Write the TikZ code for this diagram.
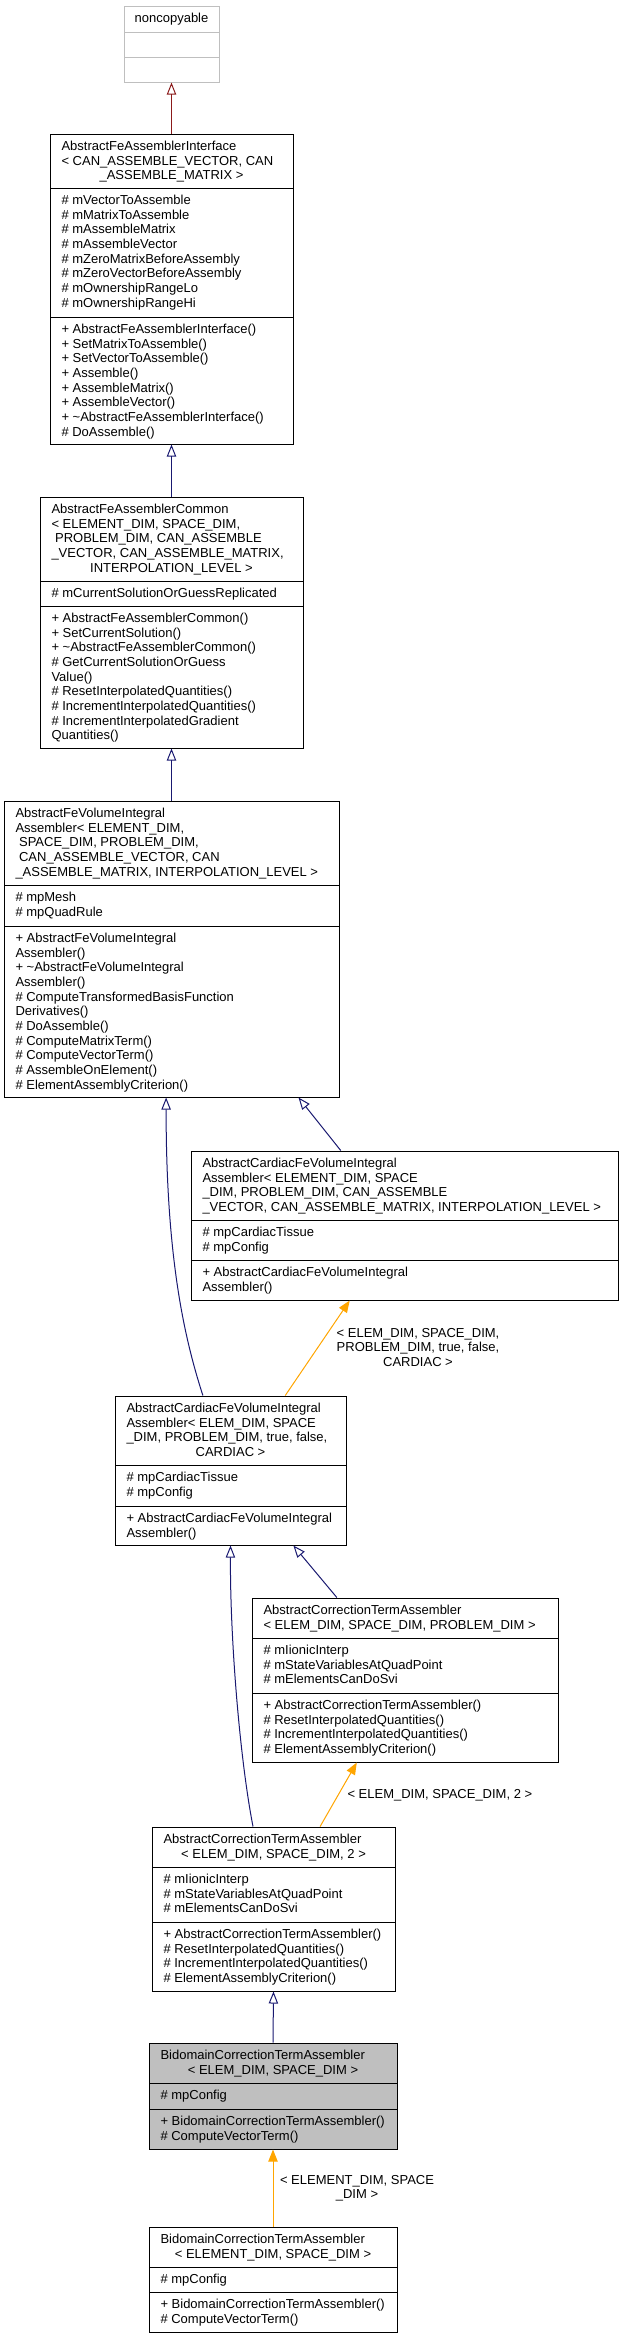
\documentclass[tikz,border=0pt]{standalone}
\usepackage{fontspec}
\setmainfont{Liberation Sans}
\usetikzlibrary{arrows.meta,fit,calc}
\newcommand\umlfont{\fontsize{9.75}{11}\selectfont}
\tikzset{every picture/.style={line width=0.75pt}}

\begin{document}
\begin{tikzpicture}[x=0.75pt,y=0.75pt,yscale=-1,xscale=1,
  cls/.style={draw, fill=white, inner sep=0pt},
  sec/.style={anchor=base west, inner sep=0pt, font=\umlfont},
  mid/.style={anchor=base, inner sep=0pt, font=\umlfont},
  inh/.style={draw={rgb, 255:red, 25; green, 25; blue, 112}, -{Triangle[open,length=9pt,width=7pt]}},
  tpl/.style={draw={rgb, 255:red, 255; green, 165; blue, 0}, -{Triangle[length=9pt,width=7pt]}}]
\useasboundingbox (0,0) rectangle (633,2339);

%Shape: Rectangle [noncopyable]
\node[cls, draw={rgb, 255:red, 191; green, 191; blue, 191}, fit={(124,6) (219,82)}] (noncopy) {};
\draw [color={rgb, 255:red, 191; green, 191; blue, 191}] (124,32) -- (219,32) (124,57) -- (219,57) ;
% Text Node
\node[mid] (noncopy-t) at (171.5,22.5) {noncopyable};

%Shape: Rectangle [AbstractFeAssemblerInterface]
\node[cls, fit={(50,134) (293,444)}] (iface) {};
\draw (50,188) -- (293,188) (50,317) -- (293,317) ;
% Text Node
\node[sec] (iface-t) at (61,150.5) {\begin{tabular}[t]{@{}l@{}}AbstractFeAssemblerInterface\\< CAN\_ASSEMBLE\_VECTOR, CAN\end{tabular}};
\node[mid] (iface-c) at (171.5,179.8) {\_ASSEMBLE\_MATRIX >};
\node[sec] (iface-a) at (61,204.5) {\begin{tabular}[t]{@{}l@{}}\# mVectorToAssemble\\\# mMatrixToAssemble\\\# mAssembleMatrix\\\# mAssembleVector\\\# mZeroMatrixBeforeAssembly\\\# mZeroVectorBeforeAssembly\\\# mOwnershipRangeLo\\\# mOwnershipRangeHi\end{tabular}};
\node[sec] (iface-m) at (61,333.5) {\begin{tabular}[t]{@{}l@{}}+ AbstractFeAssemblerInterface()\\+ SetMatrixToAssemble()\\+ SetVectorToAssemble()\\+ Assemble()\\+ AssembleMatrix()\\+ AssembleVector()\\+ \textasciitilde AbstractFeAssemblerInterface()\\\# DoAssemble()\end{tabular}};

%Shape: Rectangle [AbstractFeAssemblerCommon]
\node[cls, fit={(40,497) (303,748)}] (common) {};
\draw (40,581) -- (303,581) (40,606) -- (303,606) ;
% Text Node
\node[sec] (common-t) at (51,513.5) {\begin{tabular}[t]{@{}l@{}}AbstractFeAssemblerCommon\\< ELEMENT\_DIM, SPACE\_DIM,\\\ PROBLEM\_DIM, CAN\_ASSEMBLE\\\_VECTOR, CAN\_ASSEMBLE\_MATRIX,\end{tabular}};
\node[mid] (common-c) at (171.5,572.2) {INTERPOLATION\_LEVEL >};
\node[sec] (common-a) at (51,597.5) {\# mCurrentSolutionOrGuessReplicated};
\node[sec] (common-m) at (51,622.5) {\begin{tabular}[t]{@{}l@{}}+ AbstractFeAssemblerCommon()\\+ SetCurrentSolution()\\+ \textasciitilde AbstractFeAssemblerCommon()\\\# GetCurrentSolutionOrGuess\\Value()\\\# ResetInterpolatedQuantities()\\\# IncrementInterpolatedQuantities()\\\# IncrementInterpolatedGradient\\Quantities()\end{tabular}};

%Shape: Rectangle [AbstractFeVolumeIntegralAssembler]
\node[cls, fit={(4,801) (339,1097)}] (volint) {};
\draw (4,885) -- (339,885) (4,926) -- (339,926) ;
% Text Node
\node[sec] (volint-t) at (15,817.5) {\begin{tabular}[t]{@{}l@{}}AbstractFeVolumeIntegral\\Assembler< ELEMENT\_DIM,\\\ SPACE\_DIM, PROBLEM\_DIM,\\\ CAN\_ASSEMBLE\_VECTOR, CAN\\\_ASSEMBLE\_MATRIX, INTERPOLATION\_LEVEL >\end{tabular}};
\node[sec] (volint-a) at (15,901.5) {\begin{tabular}[t]{@{}l@{}}\# mpMesh\\\# mpQuadRule\end{tabular}};
\node[sec] (volint-m) at (15,942.5) {\begin{tabular}[t]{@{}l@{}}+ AbstractFeVolumeIntegral\\Assembler()\\+ \textasciitilde AbstractFeVolumeIntegral\\Assembler()\\\# ComputeTransformedBasisFunction\\Derivatives()\\\# DoAssemble()\\\# ComputeMatrixTerm()\\\# ComputeVectorTerm()\\\# AssembleOnElement()\\\# ElementAssemblyCriterion()\end{tabular}};

%Shape: Rectangle [AbstractCardiacFeVolumeIntegralAssembler, full template]
\node[cls, fit={(191,1151) (618,1300)}] (cardfull) {};
\draw (191,1220) -- (618,1220) (191,1260) -- (618,1260) ;
% Text Node
\node[sec] (cardfull-t) at (202,1167.5) {\begin{tabular}[t]{@{}l@{}}AbstractCardiacFeVolumeIntegral\\Assembler< ELEMENT\_DIM, SPACE\\\_DIM, PROBLEM\_DIM, CAN\_ASSEMBLE\\\_VECTOR, CAN\_ASSEMBLE\_MATRIX, INTERPOLATION\_LEVEL >\end{tabular}};
\node[sec] (cardfull-a) at (202,1236.5) {\begin{tabular}[t]{@{}l@{}}\# mpCardiacTissue\\\# mpConfig\end{tabular}};
\node[sec] (cardfull-m) at (202,1276.5) {\begin{tabular}[t]{@{}l@{}}+ AbstractCardiacFeVolumeIntegral\\Assembler()\end{tabular}};

%Shape: Rectangle [AbstractCardiacFeVolumeIntegralAssembler, ELEM_DIM]
\node[cls, fit={(115,1396) (346,1545)}] (cardelem) {};
\draw (115,1465) -- (346,1465) (115,1506) -- (346,1506) ;
% Text Node
\node[sec] (cardelem-t) at (126,1412.5) {\begin{tabular}[t]{@{}l@{}}AbstractCardiacFeVolumeIntegral\\Assembler< ELEM\_DIM, SPACE\\\_DIM, PROBLEM\_DIM, true, false,\end{tabular}};
\node[mid] (cardelem-c) at (230.5,1456.5) {CARDIAC >};
\node[sec] (cardelem-a) at (126,1481.5) {\begin{tabular}[t]{@{}l@{}}\# mpCardiacTissue\\\# mpConfig\end{tabular}};
\node[sec] (cardelem-m) at (126,1522.5) {\begin{tabular}[t]{@{}l@{}}+ AbstractCardiacFeVolumeIntegral\\Assembler()\end{tabular}};

%Shape: Rectangle [AbstractCorrectionTermAssembler, PROBLEM_DIM]
\node[cls, fit={(252,1598) (558,1762)}] (corrprob) {};
\draw (252,1638) -- (558,1638) (252,1693) -- (558,1693) ;
% Text Node
\node[sec] (corrprob-t) at (263,1614.5) {\begin{tabular}[t]{@{}l@{}}AbstractCorrectionTermAssembler\\< ELEM\_DIM, SPACE\_DIM, PROBLEM\_DIM >\end{tabular}};
\node[sec] (corrprob-a) at (263,1654.5) {\begin{tabular}[t]{@{}l@{}}\# mIionicInterp\\\# mStateVariablesAtQuadPoint\\\# mElementsCanDoSvi\end{tabular}};
\node[sec] (corrprob-m) at (263,1709.5) {\begin{tabular}[t]{@{}l@{}}+ AbstractCorrectionTermAssembler()\\\# ResetInterpolatedQuantities()\\\# IncrementInterpolatedQuantities()\\\# ElementAssemblyCriterion()\end{tabular}};

%Shape: Rectangle [AbstractCorrectionTermAssembler, 2]
\node[cls, fit={(152,1827) (395,1991)}] (corr2) {};
\draw (152,1867) -- (395,1867) (152,1922) -- (395,1922) ;
% Text Node
\node[sec] (corr2-t) at (163,1843.5) {AbstractCorrectionTermAssembler};
\node[mid] (corr2-c) at (273.5,1858.2) {< ELEM\_DIM, SPACE\_DIM, 2 >};
\node[sec] (corr2-a) at (163,1883.5) {\begin{tabular}[t]{@{}l@{}}\# mIionicInterp\\\# mStateVariablesAtQuadPoint\\\# mElementsCanDoSvi\end{tabular}};
\node[sec] (corr2-m) at (163,1938.5) {\begin{tabular}[t]{@{}l@{}}+ AbstractCorrectionTermAssembler()\\\# ResetInterpolatedQuantities()\\\# IncrementInterpolatedQuantities()\\\# ElementAssemblyCriterion()\end{tabular}};

%Shape: Rectangle [BidomainCorrectionTermAssembler, ELEM_DIM]
\node[cls, fill={rgb, 255:red, 191; green, 191; blue, 191}, fit={(149,2043) (397,2149)}] (bidomain) {};
\draw (149,2083) -- (397,2083) (149,2109) -- (397,2109) ;
% Text Node
\node[sec] (bidomain-t) at (160,2059.5) {BidomainCorrectionTermAssembler};
\node[mid] (bidomain-c) at (273,2074.2) {< ELEM\_DIM, SPACE\_DIM >};
\node[sec] (bidomain-a) at (160,2099.5) {\# mpConfig};
\node[sec] (bidomain-m) at (160,2125.5) {\begin{tabular}[t]{@{}l@{}}+ BidomainCorrectionTermAssembler()\\\# ComputeVectorTerm()\end{tabular}};

%Shape: Rectangle [BidomainCorrectionTermAssembler, ELEMENT_DIM]
\node[cls, fit={(149,2227) (397,2332)}] (bidomainE) {};
\draw (149,2267) -- (397,2267) (149,2292) -- (397,2292) ;
% Text Node
\node[sec] (bidomainE-t) at (160,2243.5) {BidomainCorrectionTermAssembler};
\node[mid] (bidomainE-c) at (273,2258.2) {< ELEMENT\_DIM, SPACE\_DIM >};
\node[sec] (bidomainE-a) at (160,2283.5) {\# mpConfig};
\node[sec] (bidomainE-m) at (160,2308.5) {\begin{tabular}[t]{@{}l@{}}+ BidomainCorrectionTermAssembler()\\\# ComputeVectorTerm()\end{tabular}};

%Straight Lines [inheritance]
\draw[inh, draw={rgb, 255:red, 139; green, 26; blue, 26}] (iface.north) -- (noncopy.south);
\draw[inh] (common.north) -- (iface.south);
\draw[inh] (volint.north) -- (common.south);
\draw[inh] ($(cardelem.north west)!0.381!(cardelem.north east)$) .. controls (185,1340) and (166,1260) .. ($(volint.south west)!0.484!(volint.south east)$);
\draw[inh] ($(cardfull.north west)!0.351!(cardfull.north east)$) -- ($(volint.south west)!0.878!(volint.south east)$);
\draw[inh] ($(corr2.north west)!0.416!(corr2.north east)$) .. controls (240,1760) and (230,1640) .. (cardelem.south);
\draw[inh] ($(corrprob.north west)!0.278!(corrprob.north east)$) -- ($(cardelem.south west)!0.771!(cardelem.south east)$);
\draw[inh] (bidomain.north) -- (corr2.south);

%Straight Lines [template instances]
\draw[tpl] ($(cardelem.north west)!0.736!(cardelem.north east)$) -- ($(cardfull.south west)!0.372!(cardfull.south east)$);
\draw[tpl] ($(corr2.north west)!0.691!(corr2.north east)$) -- ($(corrprob.south west)!0.343!(corrprob.south east)$);
\draw[tpl] (bidomainE.north) -- (bidomain.south);

% Text Node
\node[mid] (lblCardiac) at (418,1337) {\begin{tabular}[t]{@{}c@{}}< ELEM\_DIM, SPACE\_DIM,\\PROBLEM\_DIM, true, false,\\CARDIAC >\end{tabular}};
% Text Node
\node[sec] (lblCorr) at (347,1798) {< ELEM\_DIM, SPACE\_DIM, 2 >};
% Text Node
\node[mid] (lblBidomain) at (357,2184) {\begin{tabular}[t]{@{}c@{}}< ELEMENT\_DIM, SPACE\\\_DIM >\end{tabular}};

\end{tikzpicture}
\end{document}
